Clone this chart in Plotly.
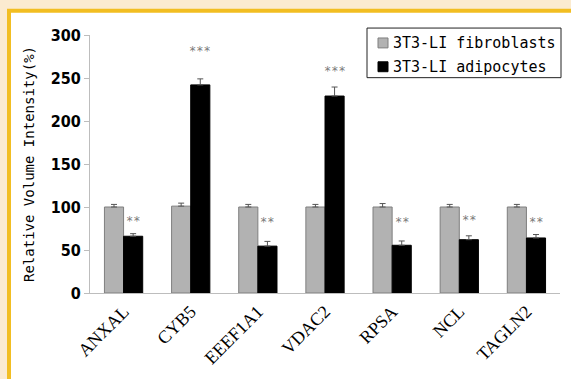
import plotly.graph_objects as go

categories = ["ANXAL", "CYB5", "EEEF1A1", "VDAC2", "RPSA", "NCL", "TAGLN2"]
series_names = ["3T3-LI fibroblasts", "3T3-LI adipocytes"]
fibro = [100, 101, 100, 100, 100, 100, 100]
fibro_err = [3, 3.5, 3, 3, 4, 3, 3]
adipo = [66, 242, 54.5, 229, 55.5, 62, 64]
adipo_err = [3, 7, 5.5, 10.5, 5, 4.5, 4]
sig_text = ["**", "***", "**", "***", "**", "**", "**"]
sig_y = [84, 281, 83, 258, 83, 85, 83]
y_ticks = [0, 50, 100, 150, 200, 250, 300]

W, H = 571, 379
L, R, T, B = 90, 11, 35, 84
pw, ph = W - L - R, H - T - B

def px_x(p):
    return (p - L) / pw

def px_y(p):
    return (H - B - p) / ph

fills = ["#B2B2B2", "#000000"]
edges = ["#7F7F7F", "#000000"]

fig = go.Figure()
for name, vals, errs, fc, ec in zip(series_names, [fibro, adipo], [fibro_err, adipo_err], fills, edges):
    fig.add_trace(go.Bar(
        x=categories, y=vals, name=name, showlegend=False,
        marker=dict(color=fc, line=dict(color=ec, width=1)),
        error_y=dict(type="data", array=errs, arrayminus=[0] * len(vals),
                     symmetric=False, color="#555555", thickness=1, width=3),
    ))

for c, t, y in zip(categories, sig_text, sig_y):
    fig.add_annotation(x=c, y=y, text=t, showarrow=False, xshift=9.5,
                       font=dict(family="DejaVu Sans Mono", size=12, color="#7A7A7A"),
                       xanchor="center", yanchor="middle")

# frame: cream background with gold border around white panel
fig.add_shape(type="rect", xref="paper", yref="paper",
              x0=px_x(9), x1=px_x(W + 20), y0=px_y(H + 20), y1=px_y(10.5),
              fillcolor="white", line=dict(color="#F2BE22", width=4), layer="below")

# legend box drawn by hand
fig.add_shape(type="rect", xref="paper", yref="paper",
              x0=px_x(367), x1=px_x(561), y0=px_y(78), y1=px_y(28),
              fillcolor="white", line=dict(color="#222222", width=1), layer="above")
for i, (name, fc, ec) in enumerate(zip(series_names, fills, edges)):
    cy = 43 + 24 * i
    fig.add_shape(type="rect", xref="paper", yref="paper",
                  x0=px_x(378), x1=px_x(388), y0=px_y(cy + 5), y1=px_y(cy - 5),
                  fillcolor=fc, line=dict(color=ec, width=1), layer="above")
    fig.add_annotation(xref="paper", yref="paper", x=px_x(391), y=px_y(cy),
                       text=name, showarrow=False, xanchor="left", yanchor="middle",
                       font=dict(family="DejaVu Sans Mono", size=15, color="black"))

fig.update_layout(
    width=W, height=H,
    margin=dict(l=L, r=R, t=T, b=B),
    paper_bgcolor="#FBEBD0",
    plot_bgcolor="rgba(0,0,0,0)",
    barmode="group", bargap=0.43, bargroupgap=0,
    showlegend=False,
    xaxis=dict(showline=True, linecolor="#BDBDBD", linewidth=1, ticks="",
               tickangle=-45, showgrid=False,
               tickfont=dict(family="Liberation Serif", size=18, color="black")),
    yaxis=dict(range=[0, 300], tickvals=y_ticks, showline=True, linecolor="#BDBDBD",
               linewidth=1, ticks="outside", ticklen=5, tickcolor="#BDBDBD",
               showgrid=False, zeroline=False,
               tickfont=dict(family="Liberation Sans Narrow, DejaVu Sans Condensed, Arial",
                             size=16, color="black", weight="bold"),
               title=dict(text="Relative Volume Intensity(%)", standoff=12,
                          font=dict(family="DejaVu Sans Mono", size=14, color="black"))),
)

fig.write_html("out.html")
